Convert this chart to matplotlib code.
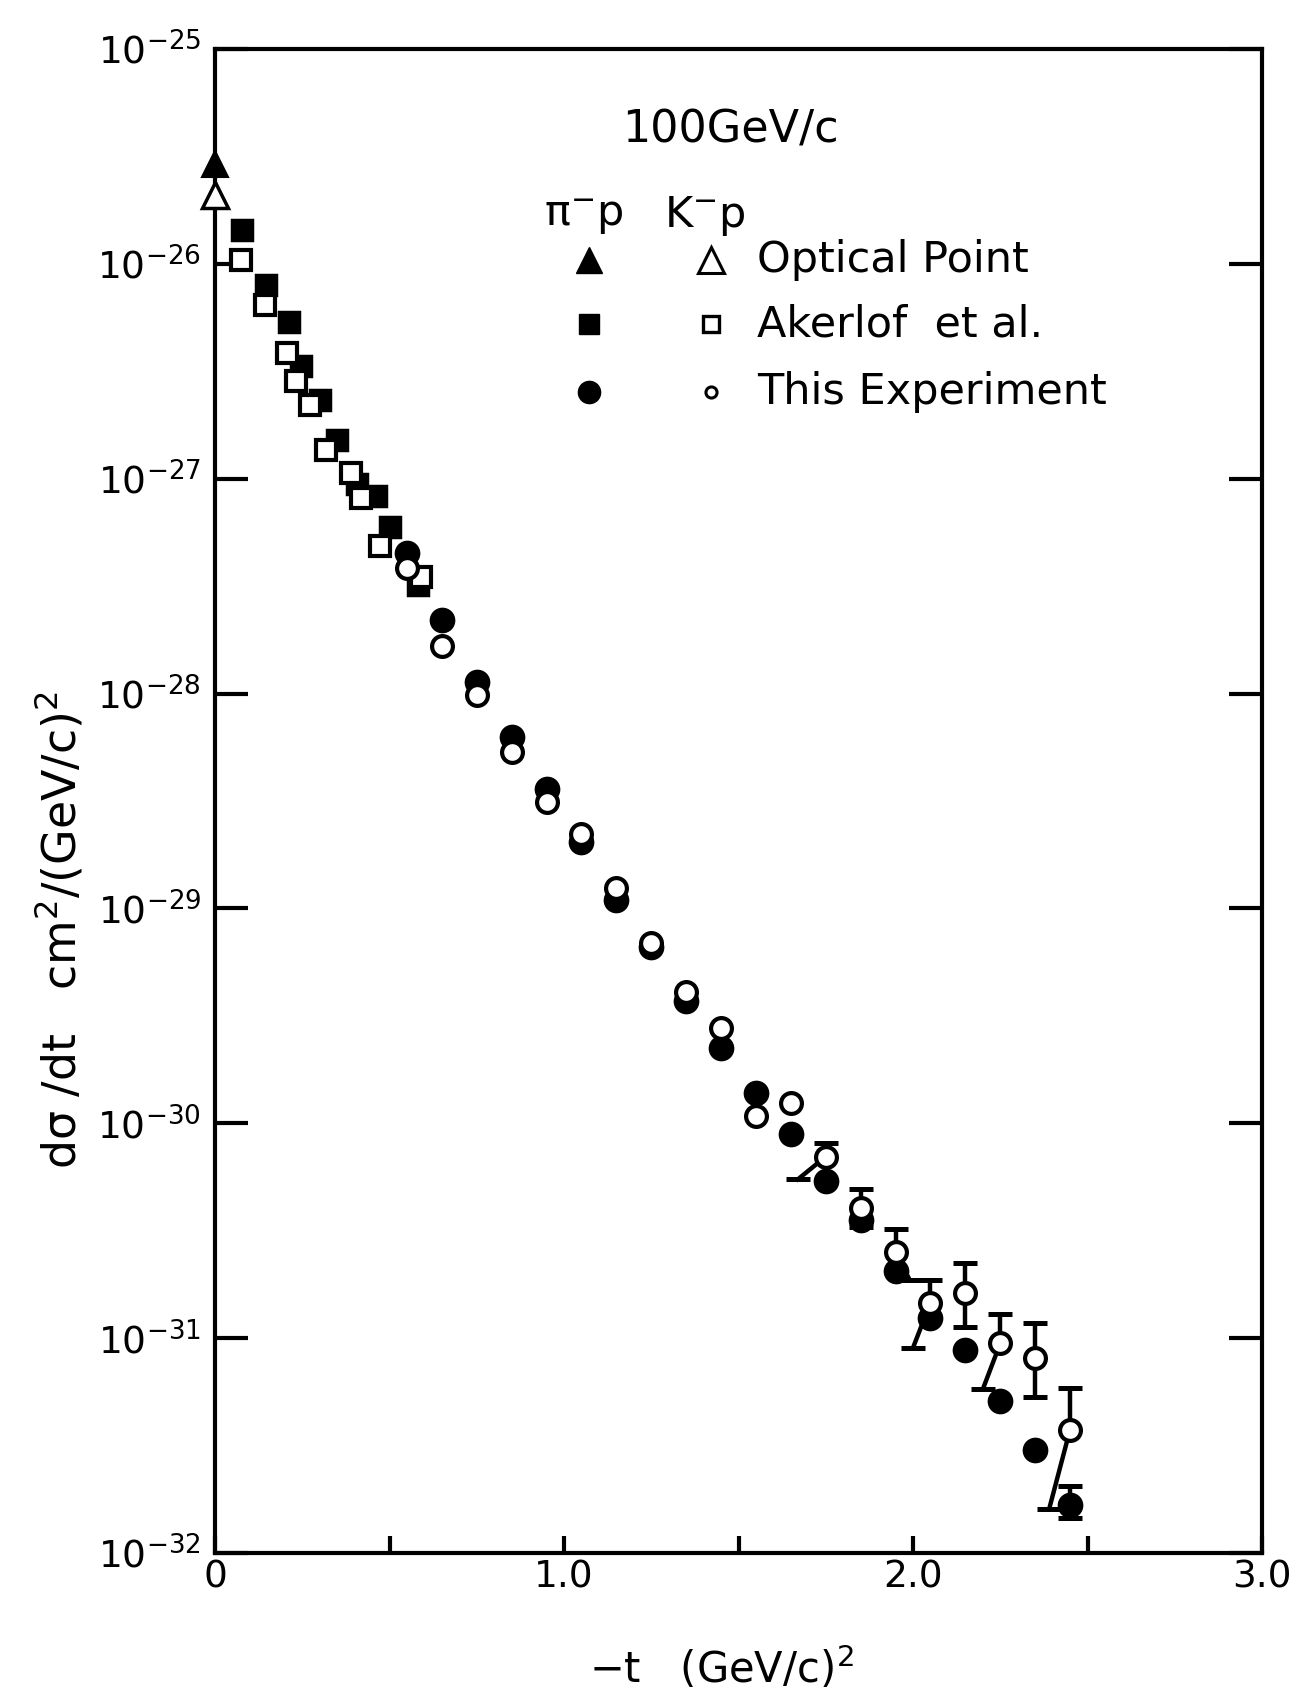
import numpy as np
import matplotlib
matplotlib.use('Agg')
import matplotlib.pyplot as plt
from matplotlib.ticker import NullLocator

plt.rcParams['font.family'] = ['DejaVu Sans']
plt.rcParams['mathtext.default'] = 'regular'

# optical point (t = 0)
opt_t = [0.0]
opt_pi = [2.9e-26]
opt_k = [2.1e-26]

# Akerlof et al.
ak_pi_t = [0.078, 0.145, 0.211, 0.247, 0.302, 0.349, 0.408, 0.462, 0.502, 0.581]
ak_pi = [1.43e-26, 7.93e-27, 5.35e-27, 3.33e-27, 2.33e-27, 1.52e-27, 9.42e-28, 8.32e-28, 5.99e-28, 3.21e-28]
ak_k_t = [0.075, 0.143, 0.205, 0.233, 0.272, 0.318, 0.389, 0.419, 0.472, 0.591]
ak_k = [1.04e-26, 6.45e-27, 3.84e-27, 2.86e-27, 2.20e-27, 1.36e-27, 1.06e-27, 8.11e-28, 4.84e-28, 3.50e-28]

# This Experiment
exp_t = [0.55, 0.65, 0.75, 0.85, 0.95, 1.05, 1.15, 1.25, 1.35, 1.45,
         1.55, 1.65, 1.75, 1.85, 1.95, 2.05, 2.15, 2.25, 2.35, 2.45]
exp_pi = [4.50e-28, 2.20e-28, 1.135e-28, 6.29e-29, 3.61e-29, 2.04e-29, 1.09e-29, 6.61e-30, 3.70e-30, 2.24e-30,
          1.39e-30, 8.90e-31, 5.39e-31, 3.54e-31, 2.05e-31, 1.24e-31, 8.83e-32, 5.07e-32, 3.02e-32, 1.67e-32]
exp_k = [3.83e-28, 1.66e-28, 9.84e-29, 5.36e-29, 3.13e-29, 2.23e-29, 1.24e-29, 6.92e-30, 4.10e-30, 2.77e-30,
         1.08e-30, 1.24e-30, 7.00e-31, 4.03e-31, 2.51e-31, 1.46e-31, 1.63e-31, 9.46e-32, 8.04e-32, 3.75e-32]

# K-p error bars (lower ends drawn displaced sideways on the original)
kerr_t = [1.75, 1.85, 1.95, 2.05, 2.15, 2.25, 2.35, 2.45]
kerr_hi = [8.05e-31, 4.94e-31, 3.22e-31, 1.87e-31, 2.23e-31, 1.30e-31, 1.18e-31, 5.86e-32]
kerr_lo = [5.48e-31, 3.28e-31, 1.87e-31, 9.02e-32, 1.13e-31, 5.78e-32, 5.33e-32, 1.60e-32]
kerr_lo_t = [1.67, 1.85, 1.99, 2.00, 2.15, 2.20, 2.35, 2.39]

# pi-p error bar on last point
pierr_t = [2.45]
pierr_hi = [2.05e-32]
pierr_lo = [1.45e-32]

decades = [1e-25, 1e-26, 1e-27, 1e-28, 1e-29, 1e-30, 1e-31, 1e-32]
dec_labels = [r'$10^{-25}$', r'$10^{-26}$', r'$10^{-27}$', r'$10^{-28}$',
              r'$10^{-29}$', r'$10^{-30}$', r'$10^{-31}$', r'$10^{-32}$']

fig = plt.figure(figsize=(13.04, 16.95), dpi=100)
ax = fig.add_axes([0.1649, 0.0838, 0.8029, 0.8873])
ax.set_yscale('log')
ax.set_xlim(0, 3.0)
ax.set_ylim(1e-32, 1e-25)

# error bars
kval = [exp_k[int(np.argmin(np.abs(np.array(exp_t) - t)))] for t in kerr_t]
ax.vlines(kerr_t, kval, kerr_hi, color='black', lw=3.2, zorder=2)
ax.plot(kerr_t, kerr_hi, ls='none', marker='_', ms=17, mew=3.6, color='black', zorder=2)
for t, v, tl, lo in zip(kerr_t, kval, kerr_lo_t, kerr_lo):
    ax.plot([t, tl], [v, lo], color='black', lw=3.2, zorder=2)
ax.plot(kerr_lo_t, kerr_lo, ls='none', marker='_', ms=17, mew=3.6, color='black', zorder=2)

ax.vlines(pierr_t, pierr_lo, pierr_hi, color='black', lw=3.2, zorder=2)
ax.plot(pierr_t, pierr_hi, ls='none', marker='_', ms=17, mew=3.6, color='black', zorder=2)
ax.plot(pierr_t, pierr_lo, ls='none', marker='_', ms=17, mew=3.6, color='black', zorder=2)

# data points
ax.plot(opt_t, opt_pi, ls='none', marker='^', ms=19, mfc='black', mec='black', mew=1.5, clip_on=False, zorder=4)
ax.plot(opt_t, opt_k, ls='none', marker='^', ms=19, mfc='white', mec='black', mew=2.5, clip_on=False, zorder=5)

ax.plot(ak_pi_t, ak_pi, ls='none', marker='s', ms=15, mfc='black', mec='black', mew=2.5, zorder=3)
ax.plot(ak_k_t, ak_k, ls='none', marker='s', ms=14.5, mfc='white', mec='black', mew=3, zorder=4)

ax.plot(exp_t, exp_pi, ls='none', marker='o', ms=16, mfc='black', mec='black', mew=2.5, zorder=3)
ax.plot(exp_t, exp_k, ls='none', marker='o', ms=15, mfc='white', mec='black', mew=3, zorder=4)

# axes styling
for sp in ax.spines.values():
    sp.set_linewidth(3)
ax.set_yticks(decades)
ax.set_yticklabels(dec_labels)
ax.yaxis.set_minor_locator(NullLocator())
ax.tick_params(axis='y', which='major', direction='in', length=24, width=3,
               left=True, right=True, labelsize=27, pad=10)
ax.set_xticks([0, 1, 2, 3])
ax.set_xticklabels(['0', '1.0', '2.0', '3.0'])
ax.set_xticks([0.5, 1.5, 2.5], minor=True)
ax.tick_params(axis='x', which='both', direction='in', length=12, width=3,
               top=False, labelsize=27, pad=5)

# legend block
ax.text(0.492, 0.946, '100GeV/c', transform=ax.transAxes, ha='center', va='center', fontsize=32)
ax.text(0.352, 0.889, r'$\pi^{-}$p', transform=ax.transAxes, ha='center', va='center', fontsize=31)
ax.text(0.468, 0.889, r'K$^{-}$p', transform=ax.transAxes, ha='center', va='center', fontsize=31)

row_y = [0.860, 0.817, 0.772]
row_text = ['Optical Point', 'Akerlof  et al.', 'This Experiment']
ax.plot([0.357], [row_y[0]], transform=ax.transAxes, marker='^', ms=19, mfc='black', mec='black', mew=1, clip_on=False)
ax.plot([0.474], [row_y[0]], transform=ax.transAxes, marker='^', ms=19, mfc='white', mec='black', mew=2.2, clip_on=False)
ax.plot([0.357], [row_y[1]], transform=ax.transAxes, marker='s', ms=15, mfc='black', mec='black', mew=1, clip_on=False)
ax.plot([0.474], [row_y[1]], transform=ax.transAxes, marker='s', ms=11, mfc='white', mec='black', mew=2.4, clip_on=False)
ax.plot([0.357], [row_y[2]], transform=ax.transAxes, marker='o', ms=16, mfc='black', mec='black', mew=1, clip_on=False)
ax.plot([0.474], [row_y[2]], transform=ax.transAxes, marker='o', ms=8, mfc='white', mec='black', mew=2.2, clip_on=False)
for y, s in zip(row_y, row_text):
    ax.text(0.518, y, s, transform=ax.transAxes, ha='left', va='center', fontsize=31)

# axis titles
fig.text(0.0456, 0.451, r'd$\sigma$ /dt   cm$^{2}$/(GeV/c)$^{2}$', rotation=90,
         ha='center', va='center', fontsize=33)
fig.text(0.553, 0.016, r'$-$t   (GeV/c)$^{2}$', ha='center', va='center', fontsize=30)

fig.savefig('out.png', dpi=100)
